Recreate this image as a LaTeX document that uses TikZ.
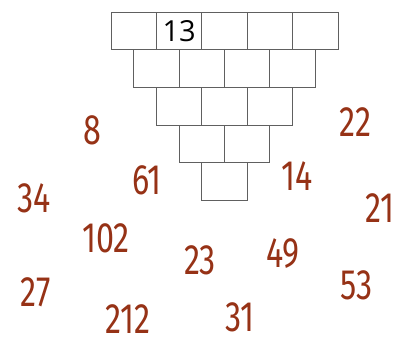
\documentclass[tikz,border=0pt]{standalone}
\usepackage{fontspec}
\usepackage{xcolor}
\usepackage{tikz}
\usetikzlibrary{positioning}
\newfontfamily\handfont[FakeStretch=0.76]{Fira Sans}
\newfontfamily\cellfont{Open Sans}
\definecolor{numred}{RGB}{150,50,22}

\begin{document}
\begin{tikzpicture}[x=1pt, y=-1pt,
    cell/.style={draw=gray!75!black, line width=0.9pt, minimum width=45.4pt, minimum height=37.7pt, inner sep=0pt},
    num/.style={text=numred, inner sep=0pt, font=\handfont\fontsize{42.5}{42.5}\selectfont}]
    \useasboundingbox (0,0) rectangle (408,339);

    % Pyramide aus Kaestchen
    \foreach \r in {0,...,4} {
        \pgfmathtruncatemacro{\last}{4-\r}
        \foreach \i in {0,...,\last} {
            \node[cell] (c-\r-\i) at ({111+22.7*\r+45.4*\i+22.7}, {12+37.7*\r+18.85}) {};
        }
    }
    \node[inner sep=0pt, font=\cellfont\fontsize{29}{29}\selectfont] (top) at (c-0-1) {13};

    % verstreute Zahlen
    \node[num] (n8)   at (92, 130)  {8};
    \node[num] (n22)  at (355, 122) {22};
    \node[num] (n61)  at (147, 180) {61};
    \node[num] (n14)  at (297, 176) {14};
    \node[num] (n34)  at (34, 198)  {34};
    \node[num] (n21)  at (380, 208) {21};
    \node[num] (n102) at (106, 238) {102};
    \node[num] (n23)  at (200, 260) {23};
    \node[num] (n49)  at (283, 254) {49};
    \node[num] (n27)  at (36, 292)  {27};
    \node[num] (n53)  at (357, 285) {53};
    \node[num] (n212) at (128, 319) {212};
    \node[num] (n31)  at (240, 317) {31};
\end{tikzpicture}
\end{document}
